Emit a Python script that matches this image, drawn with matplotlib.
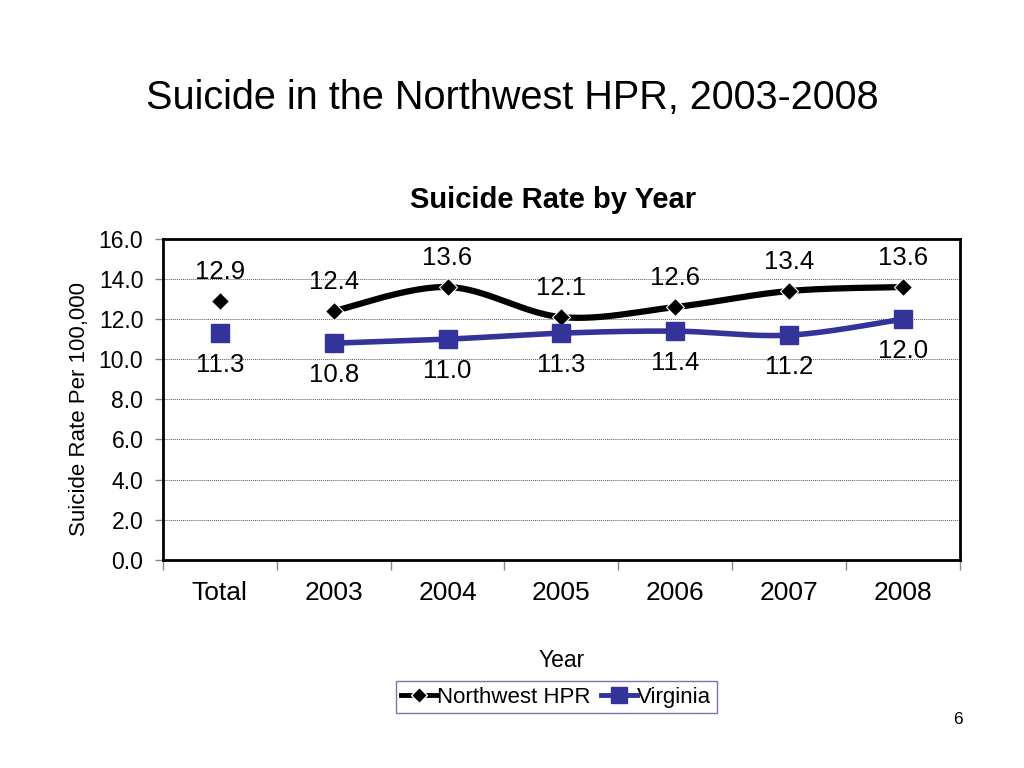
import numpy as np
import matplotlib.pyplot as plt
from matplotlib.lines import Line2D

plt.rcParams['font.family'] = ['Liberation Sans', 'DejaVu Sans']

categories = ["Total", "2003", "2004", "2005", "2006", "2007", "2008"]
northwest = [12.9, 12.4, 13.6, 12.1, 12.6, 13.4, 13.6]
virginia = [11.3, 10.8, 11.0, 11.3, 11.4, 11.2, 12.0]

nw_color = "black"
va_color = "#333399"


def smooth(x, y, n=30):
    # Catmull-Rom spline, similar to Excel's smoothed line
    x = np.asarray(x, float)
    y = np.asarray(y, float)
    px = np.concatenate([[x[0]], x, [x[-1]]])
    py = np.concatenate([[y[0]], y, [y[-1]]])
    xs, ys = [], []
    t = np.linspace(0, 1, n)
    for i in range(1, len(px) - 2):
        p0, p1, p2, p3 = [np.array([px[j], py[j]]) for j in range(i - 1, i + 3)]
        c1 = p1 + (p2 - p0) / 6
        c2 = p2 - (p3 - p1) / 6
        seg = ((1 - t) ** 3)[:, None] * p1 + (3 * (1 - t) ** 2 * t)[:, None] * c1 \
            + (3 * (1 - t) * t ** 2)[:, None] * c2 + (t ** 3)[:, None] * p2
        xs.extend(seg[:, 0])
        ys.extend(seg[:, 1])
    return np.array(xs), np.array(ys)


fig = plt.figure(figsize=(10.24, 7.68), dpi=100)
fig.text(0.5, 0.873, "Suicide in the Northwest HPR, 2003-2008", ha="center", va="center", fontsize=28.5)

ax = fig.add_axes([0.159, 0.271, 0.7785, 0.418])
x = np.arange(len(categories))

# Total is a standalone point; years are connected with a smooth line
sx, sy = smooth(x[1:], northwest[1:])
ax.plot(sx, sy, color=nw_color, lw=4.5, zorder=3)
ax.plot(x, northwest, ls="none", marker="D", ms=9.5, color=nw_color,
        markeredgecolor="white", markeredgewidth=0.8, zorder=4)
sx, sy = smooth(x[1:], virginia[1:])
ax.plot(sx, sy, color=va_color, lw=4, zorder=3)
ax.plot(x, virginia, ls="none", marker="s", ms=12.5, color=va_color, zorder=4)

for i in range(len(categories)):
    ax.annotate(f"{northwest[i]:.1f}", (x[i], northwest[i]), xytext=(0, 21),
                textcoords="offset points", ha="center", va="center", fontsize=18.5)
    ax.annotate(f"{virginia[i]:.1f}", (x[i], virginia[i]), xytext=(0, -23),
                textcoords="offset points", ha="center", va="center", fontsize=18.5)

ax.set_xlim(-0.5, len(categories) - 0.5)
ax.set_ylim(0, 16)
ax.set_yticks(np.arange(0, 17, 2))
ax.set_yticklabels([f"{v:.1f}" for v in np.arange(0, 17, 2)], fontsize=16.5)
ax.set_xticks(x)
ax.set_xticklabels(categories, fontsize=19)
ax.tick_params(axis="x", length=0, pad=15)
ax.set_xticks(np.arange(-0.5, len(categories), 1), minor=True)
ax.tick_params(axis="x", which="minor", length=7, width=1, color="#888888")
ax.tick_params(axis="y", length=6, width=1, color="#888888", pad=8)
ax.grid(axis="y", color="#555555", ls=(0, (1, 1)), lw=0.7)
ax.set_axisbelow(True)
for s in ax.spines.values():
    s.set_linewidth(2)

ax.set_title("Suicide Rate by Year", fontsize=21, fontweight="bold", pad=22, x=0.49)
ax.set_ylabel("Suicide Rate Per 100,000", fontsize=16, labelpad=6)
ax.yaxis.set_label_coords(-0.091, 0.47)
ax.set_xlabel("Year", fontsize=16.5, labelpad=32)

handles = [
    Line2D([], [], color=nw_color, lw=3.5, marker="D", ms=8, markeredgecolor="white"),
    Line2D([], [], color=va_color, lw=3.5, marker="s", ms=11),
]
leg = fig.legend(handles, ["Northwest HPR", "Virginia"], loc="center", bbox_to_anchor=(0.543, 0.092),
                 ncol=2, fontsize=16, frameon=True, fancybox=False, handlelength=1.6,
                 handletextpad=0.0, columnspacing=0.5, borderpad=0.25, borderaxespad=0)
leg.get_frame().set_edgecolor("#555599")
leg.get_frame().set_linewidth(1)

fig.text(0.935, 0.063, "6", ha="center", va="center", fontsize=12.5)

fig.savefig("out.png", dpi=100)
